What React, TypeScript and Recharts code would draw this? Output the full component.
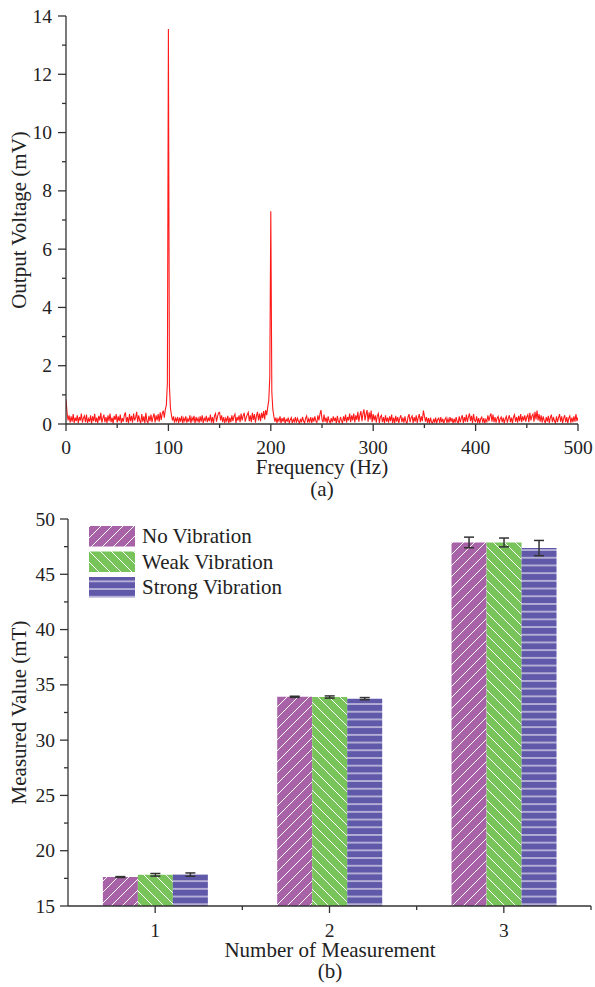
import React from 'react';
import { LineChart, Line, XAxis, YAxis, BarChart, Bar, ErrorBar } from 'recharts';

const FONT = "'Liberation Serif', 'Times New Roman', serif";
const AX = '#333333';
const TXT = '#222222';

// ---------- (a) spectrum ----------
const freqStepHz = 1;
const outputVoltage = [
  0.85, 0.4, 0.12, 0.3, 0.05, 0.26, 0.08, 0.34, 0.04, 0.22,
  0.1, 0.3, 0.03, 0.24, 0.12, 0.36, 0.05, 0.2, 0.28, 0.06,
  0.32, 0.04, 0.18, 0.08, 0.3, 0.02, 0.26, 0.1, 0.35, 0.06,
  0.22, 0.03, 0.28, 0.12, 0.38, 0.05, 0.2, 0.32, 0.06, 0.24,
  0.04, 0.3, 0.1, 0.36, 0.06, 0.22, 0.02, 0.28, 0.14, 0.34,
  0.05, 0.26, 0.1, 0.32, 0.04, 0.2, 0.08, 0.3, 0.4, 0.06,
  0.24, 0.03, 0.34, 0.1, 0.28, 0.05, 0.36, 0.12, 0.22, 0.42,
  0.06, 0.3, 0.12, 0.04, 0.34, 0.08, 0.26, 0.03, 0.38, 0.1,
  0.04, 0.28, 0.1, 0.32, 0.06, 0.24, 0.36, 0.05, 0.3, 0.12,
  0.34, 0.08, 0.4, 0.14, 0.36, 0.46, 0.22, 0.5, 0.65, 1.4,
  13.55, 1.3, 0.55, 0.3, 0.12, 0.26, 0.05, 0.2, 0.1, 0.24,
  0.04, 0.22, 0.08, 0.28, 0.03, 0.2, 0.1, 0.26, 0.05, 0.18,
  0.08, 0.3, 0.04, 0.22, 0.12, 0.28, 0.03, 0.24, 0.1, 0.2,
  0.05, 0.26, 0.08, 0.3, 0.04, 0.2, 0.12, 0.28, 0.06, 0.22,
  0.1, 0.32, 0.05, 0.24, 0.03, 0.28, 0.36, 0.08, 0.26, 0.38,
  0.4, 0.12, 0.3, 0.06, 0.24, 0.04, 0.2, 0.1, 0.28, 0.03,
  0.22, 0.06, 0.3, 0.1, 0.26, 0.34, 0.04, 0.24, 0.12, 0.3,
  0.06, 0.36, 0.12, 0.28, 0.38, 0.08, 0.22, 0.32, 0.4, 0.1,
  0.3, 0.06, 0.38, 0.14, 0.34, 0.05, 0.28, 0.42, 0.12, 0.36,
  0.1, 0.38, 0.2, 0.44, 0.16, 0.48, 0.3, 0.58, 0.8, 1.6,
  7.3, 1.1, 0.5, 0.26, 0.08, 0.22, 0.04, 0.18, 0.1, 0.26,
  0.03, 0.2, 0.08, 0.24, 0.02, 0.16, 0.1, 0.22, 0.04, 0.14,
  0.22, 0.03, 0.16, 0.08, 0.24, 0.05, 0.2, 0.1, 0.02, 0.18,
  0.06, 0.24, 0.1, 0.03, 0.2, 0.28, 0.05, 0.18, 0.08, 0.24,
  0.04, 0.22, 0.08, 0.26, 0.1, 0.05, 0.3, 0.12, 0.34, 0.48,
  0.16, 0.06, 0.32, 0.08, 0.22, 0.03, 0.26, 0.1, 0.04, 0.2,
  0.06, 0.26, 0.1, 0.22, 0.03, 0.28, 0.08, 0.05, 0.24, 0.12,
  0.04, 0.26, 0.1, 0.32, 0.05, 0.24, 0.12, 0.36, 0.06, 0.3,
  0.12, 0.36, 0.05, 0.3, 0.14, 0.42, 0.08, 0.3, 0.44, 0.1,
  0.36, 0.5, 0.12, 0.34, 0.48, 0.08, 0.4, 0.16, 0.46, 0.06,
  0.34, 0.12, 0.3, 0.05, 0.28, 0.36, 0.04, 0.24, 0.3, 0.06,
  0.24, 0.03, 0.3, 0.08, 0.22, 0.05, 0.26, 0.1, 0.32, 0.04,
  0.22, 0.03, 0.28, 0.08, 0.24, 0.04, 0.2, 0.3, 0.06, 0.22,
  0.05, 0.26, 0.08, 0.02, 0.24, 0.34, 0.06, 0.22, 0.28, 0.04,
  0.24, 0.08, 0.3, 0.04, 0.22, 0.34, 0.06, 0.26, 0.1, 0.46,
  0.28, 0.08, 0.24, 0.04, 0.2, 0.02, 0.22, 0.06, 0.03, 0.18,
  0.05, 0.22, 0.02, 0.16, 0.2, 0.04, 0.24, 0.06, 0.18, 0.02,
  0.16, 0.22, 0.04, 0.18, 0.05, 0.24, 0.08, 0.2, 0.02, 0.18,
  0.05, 0.24, 0.08, 0.03, 0.26, 0.06, 0.2, 0.3, 0.04, 0.24,
  0.08, 0.32, 0.06, 0.24, 0.36, 0.1, 0.28, 0.04, 0.34, 0.12,
  0.08, 0.26, 0.04, 0.2, 0.03, 0.18, 0.24, 0.05, 0.2, 0.02,
  0.16, 0.08, 0.3, 0.1, 0.26, 0.36, 0.08, 0.32, 0.06, 0.24,
  0.05, 0.2, 0.26, 0.03, 0.18, 0.24, 0.06, 0.22, 0.02, 0.18,
  0.26, 0.05, 0.2, 0.3, 0.06, 0.22, 0.03, 0.24, 0.32, 0.08,
  0.24, 0.05, 0.28, 0.1, 0.34, 0.06, 0.26, 0.12, 0.3, 0.08,
  0.24, 0.32, 0.06, 0.38, 0.12, 0.28, 0.34, 0.08, 0.42, 0.16,
  0.46, 0.12, 0.34, 0.08, 0.3, 0.05, 0.26, 0.12, 0.04, 0.24,
  0.08, 0.28, 0.04, 0.22, 0.32, 0.06, 0.24, 0.1, 0.03, 0.26,
  0.06, 0.22, 0.34, 0.08, 0.26, 0.04, 0.2, 0.3, 0.06, 0.24,
  0.03, 0.2, 0.28, 0.05, 0.22, 0.06, 0.26, 0.08, 0.34, 0.1,
  0.22,
];
const freqTicks = [0, 50, 100, 150, 200, 250, 300, 350, 400, 450, 500];
const freqLabelTicks = [0, 100, 200, 300, 400, 500];
const voltTicks = [0, 1, 2, 3, 4, 5, 6, 7, 8, 9, 10, 11, 12, 13, 14];
const voltLabelTicks = [0, 2, 4, 6, 8, 10, 12, 14];

// ---------- (b) bars ----------
const measurementNumbers = ['1', '2', '3'];
const noVibration = [17.62, 33.92, 47.88];
const weakVibration = [17.82, 33.9, 47.88];
const strongVibration = [17.84, 33.75, 47.37];
const noVibrationErr = [0.04, 0.05, 0.48];
const weakVibrationErr = [0.12, 0.1, 0.4];
const strongVibrationErr = [0.15, 0.1, 0.69];
const mtTicks = [15, 17.5, 20, 22.5, 25, 27.5, 30, 32.5, 35, 37.5, 40, 42.5, 45, 47.5, 50];
const mtLabelTicks = [15, 20, 25, 30, 35, 40, 45, 50];
const seriesNames = ['No Vibration', 'Weak Vibration', 'Strong Vibration'];

const spectrum = outputVoltage.map((v, i) => ({ f: i * freqStepHz, v }));
const barData = measurementNumbers.map((n, i) => ({
  n,
  no: noVibration[i],
  weak: weakVibration[i],
  strong: strongVibration[i],
  noErr: noVibrationErr[i],
  weakErr: weakVibrationErr[i],
  strongErr: strongVibrationErr[i],
}));

const PURPLE = '#A862A8';
const GREEN = '#78C35A';
const BLUE = '#6058A8';
const patternIds = ['patNo', 'patWeak', 'patStrong'];

const textStyle: React.CSSProperties = { fontFamily: FONT };

const FreqTick = (p: any) => {
  const { x, y, payload } = p;
  const major = freqLabelTicks.includes(payload.value);
  return (
    <g>
      <line x1={x} x2={x} y1={y} y2={y + (major ? 7 : 4)} stroke={AX} strokeWidth={1.3} />
      {major && (
        <text x={x} y={y + 30} textAnchor="middle" fontSize={19.5} style={textStyle} fill={TXT}>
          {payload.value}
        </text>
      )}
    </g>
  );
};

const VoltTick = (p: any) => {
  const { x, y, payload } = p;
  const major = voltLabelTicks.includes(payload.value);
  return (
    <g>
      <line x1={x - (major ? 8 : 4)} x2={x} y1={y} y2={y} stroke={AX} strokeWidth={1.3} />
      {major && (
        <text x={x - 14} y={y + 6.6} textAnchor="end" fontSize={19.5} style={textStyle} fill={TXT}>
          {payload.value}
        </text>
      )}
    </g>
  );
};

const MeasTick = (p: any) => {
  const { x, y, payload } = p;
  const half = payload && typeof payload.offset === 'number' ? payload.offset : 0;
  return (
    <g>
      <line x1={x} x2={x} y1={y} y2={y + 7} stroke={AX} strokeWidth={1.3} />
      {half > 0 && <line x1={x + half} x2={x + half} y1={y} y2={y + 4} stroke={AX} strokeWidth={1.3} />}
      <text x={x} y={y + 31} textAnchor="middle" fontSize={19.5} style={textStyle} fill={TXT}>
        {payload.value}
      </text>
    </g>
  );
};

const MtTick = (p: any) => {
  const { x, y, payload } = p;
  const major = mtLabelTicks.includes(payload.value);
  return (
    <g>
      <line x1={x - (major ? 8 : 4)} x2={x} y1={y} y2={y} stroke={AX} strokeWidth={1.3} />
      {major && (
        <text x={x - 13} y={y + 6.6} textAnchor="end" fontSize={19.5} style={textStyle} fill={TXT}>
          {payload.value}
        </text>
      )}
    </g>
  );
};

export default function App() {
  return (
    <div style={{ position: 'absolute', left: 0, top: 0, width: 595, height: 987, background: '#fff', fontFamily: FONT }}>
      <div style={{ position: 'absolute', left: 0, top: 0 }}>
        <LineChart width={595} height={500} data={spectrum} margin={{ top: 16, right: 17, bottom: 0, left: 0 }}>
          <XAxis
            dataKey="f"
            type="number"
            domain={[0, 500]}
            ticks={freqTicks}
            interval={0}
            tickSize={0}
            tickMargin={0}
            tickLine={false}
            axisLine={{ stroke: AX, strokeWidth: 1.3 }}
            height={76}
            tick={(p: any) => <FreqTick {...p} />}
            allowDataOverflow
          />
          <YAxis
            type="number"
            domain={[0, 14]}
            ticks={voltTicks}
            interval={0}
            tickSize={0}
            tickMargin={0}
            tickLine={false}
            axisLine={{ stroke: AX, strokeWidth: 1.3 }}
            width={66}
            tick={(p: any) => <VoltTick {...p} />}
            allowDataOverflow
          />
          <Line dataKey="v" type="linear" stroke="#FF1A1A" strokeWidth={1.1} dot={false} activeDot={false} isAnimationActive={false} />
        </LineChart>
      </div>
      <div style={{ position: 'absolute', left: 0, top: 500 }}>
        <BarChart width={595} height={487} data={barData} margin={{ top: 19, right: 4, bottom: 0, left: 0 }} barGap={0} barCategoryGap="20%">
          <XAxis
            dataKey="n"
            interval={0}
            tickSize={0}
            tickMargin={0}
            tickLine={false}
            axisLine={{ stroke: AX, strokeWidth: 1.3 }}
            height={81}
            tick={(p: any) => <MeasTick {...p} />}
          />
          <YAxis
            type="number"
            domain={[15, 50]}
            ticks={mtTicks}
            interval={0}
            tickSize={0}
            tickMargin={0}
            tickLine={false}
            axisLine={{ stroke: AX, strokeWidth: 1.3 }}
            width={68}
            tick={(p: any) => <MtTick {...p} />}
            allowDataOverflow
          />
          <Bar dataKey="no" fill="url(#patNo)" isAnimationActive={false}>
            <ErrorBar dataKey="noErr" direction="y" width={5} stroke={AX} strokeWidth={1.5} isAnimationActive={false} />
          </Bar>
          <Bar dataKey="weak" fill="url(#patWeak)" isAnimationActive={false}>
            <ErrorBar dataKey="weakErr" direction="y" width={5} stroke={AX} strokeWidth={1.5} isAnimationActive={false} />
          </Bar>
          <Bar dataKey="strong" fill="url(#patStrong)" isAnimationActive={false}>
            <ErrorBar dataKey="strongErr" direction="y" width={5} stroke={AX} strokeWidth={1.5} isAnimationActive={false} />
          </Bar>
        </BarChart>
      </div>
      <svg width={595} height={987} style={{ position: 'absolute', left: 0, top: 0, pointerEvents: 'none' }}>
        <defs>
          <pattern id="patNo" patternUnits="userSpaceOnUse" width={11} height={11}>
            <rect width={11} height={11} fill={PURPLE} />
            <path d="M0,11 L11,0 M-2,2 L2,-2 M9,13 L13,9" stroke="#fff" strokeWidth={1} />
          </pattern>
          <pattern id="patWeak" patternUnits="userSpaceOnUse" width={11} height={11}>
            <rect width={11} height={11} fill={GREEN} />
            <path d="M0,0 L11,11 M-2,9 L2,13 M9,-2 L13,2" stroke="#fff" strokeWidth={1} />
          </pattern>
          <pattern id="patStrong" patternUnits="userSpaceOnUse" width={10} height={7.7}>
            <rect width={10} height={7.7} fill={BLUE} />
            <line x1={0} x2={10} y1={3.85} y2={3.85} stroke="#fff" strokeWidth={1} />
          </pattern>
        </defs>
        <g style={textStyle} fill={TXT} fontSize={21}>
          <text transform="translate(19,220) rotate(-90)" textAnchor="middle" dy={7}>Output Voltage (mV)</text>
          <text x={322} y={474} textAnchor="middle">Frequency (Hz)</text>
          <text x={322} y={495.5} textAnchor="middle">(a)</text>
          <text transform="translate(19,712.5) rotate(-90)" textAnchor="middle" dy={7}>Measured Value (mT)</text>
          <text x={330} y={957} textAnchor="middle">Number of Measurement</text>
          <text x={330} y={978} textAnchor="middle">(b)</text>
          {seriesNames.map((name, i) => (
            <g key={name}>
              <rect x={89} y={526 + i * 25.5} width={46} height={20.5} fill={`url(#${patternIds[i]})`} />
              <text x={142} y={543 + i * 25.5}>{name}</text>
            </g>
          ))}
        </g>
      </svg>
    </div>
  );
}
